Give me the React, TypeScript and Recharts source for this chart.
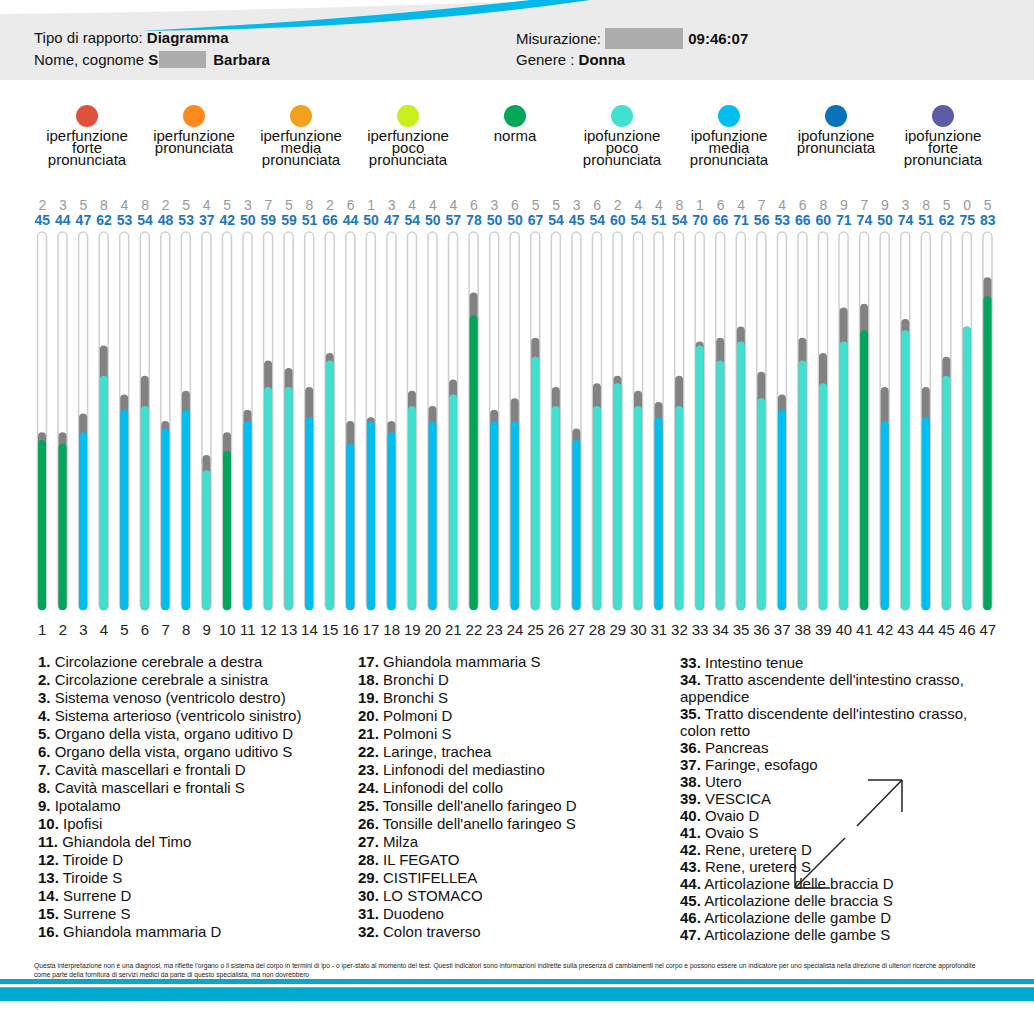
import { BarChart, Bar, XAxis, YAxis, Cell } from 'recharts'

const FONT = '"Liberation Sans", Arial, Helvetica, sans-serif'

const values = [45, 44, 47, 62, 53, 54, 48, 53, 37, 42, 50, 59, 59, 51, 66, 44, 50, 47, 54, 50, 57, 78, 50, 50, 67, 54, 45, 54, 60, 54, 51, 54, 70, 66, 71, 56, 53, 66, 60, 71, 74, 50, 74, 51, 62, 75, 83]
const deltas = [2, 3, 5, 8, 4, 8, 2, 5, 4, 5, 3, 7, 5, 8, 2, 6, 1, 3, 4, 4, 4, 6, 3, 6, 5, 5, 3, 6, 2, 4, 4, 8, 1, 6, 4, 7, 4, 6, 8, 9, 7, 9, 3, 8, 5, 0, 5]
// n = norma, p = ipofunzione poco pronunciata, m = ipofunzione media pronunciata
const states = ['n', 'n', 'm', 'p', 'm', 'p', 'm', 'm', 'p', 'n', 'm', 'p', 'p', 'm', 'p', 'm', 'm', 'm', 'p', 'm', 'p', 'n', 'm', 'm', 'p', 'p', 'm', 'p', 'p', 'p', 'm', 'p', 'p', 'p', 'p', 'p', 'm', 'p', 'p', 'p', 'n', 'm', 'p', 'm', 'p', 'p', 'n']

const organs = [
	'Circolazione cerebrale a destra',
	'Circolazione cerebrale a sinistra',
	'Sistema venoso (ventricolo destro)',
	'Sistema arterioso (ventricolo sinistro)',
	'Organo della vista, organo uditivo D',
	'Organo della vista, organo uditivo S',
	'Cavità mascellari e frontali D',
	'Cavità mascellari e frontali S',
	'Ipotalamo',
	'Ipofisi',
	'Ghiandola del Timo',
	'Tiroide D',
	'Tiroide S',
	'Surrene D',
	'Surrene S',
	'Ghiandola mammaria D',
	'Ghiandola mammaria S',
	'Bronchi D',
	'Bronchi S',
	'Polmoni D',
	'Polmoni S',
	'Laringe, trachea',
	'Linfonodi del mediastino',
	'Linfonodi del collo',
	"Tonsille dell'anello faringeo D",
	"Tonsille dell'anello faringeo S",
	'Milza',
	'IL FEGATO',
	'CISTIFELLEA',
	'LO STOMACO',
	'Duodeno',
	'Colon traverso',
	'Intestino tenue',
	"Tratto ascendente dell'intestino crasso, appendice",
	"Tratto discendente dell'intestino crasso, colon retto",
	'Pancreas',
	'Faringe, esofago',
	'Utero',
	'VESCICA',
	'Ovaio D',
	'Ovaio S',
	'Rene, uretere D',
	'Rene, uretere S',
	'Articolazione delle braccia D',
	'Articolazione delle braccia S',
	'Articolazione delle gambe D',
	'Articolazione delle gambe S',
]

const legendItems = [
	{ color: '#e0513d', lines: ['iperfunzione', 'forte', 'pronunciata'] },
	{ color: '#fd8a1e', lines: ['iperfunzione', 'pronunciata'] },
	{ color: '#f3a01c', lines: ['iperfunzione', 'media', 'pronunciata'] },
	{ color: '#c6ef1b', lines: ['iperfunzione', 'poco', 'pronunciata'] },
	{ color: '#05a65a', lines: ['norma'] },
	{ color: '#41e0d0', lines: ['ipofunzione', 'poco', 'pronunciata'] },
	{ color: '#00bff0', lines: ['ipofunzione', 'media', 'pronunciata'] },
	{ color: '#0873b9', lines: ['ipofunzione', 'pronunciata'] },
	{ color: '#5e5ba6', lines: ['ipofunzione', 'forte', 'pronunciata'] },
]

const stateColors: Record<string, string> = {
	n: '#02a559',
	p: '#40dfd0',
	m: '#00bfee',
}

const data = values.map((v, i) => ({
	n: String(i + 1),
	value: v,
	top: v + deltas[i],
	track: 100,
}))

const TopTick = (props: any) => {
	const { x, index } = props
	return (
		<g>
			<text x={x} y={15} textAnchor="middle" dominantBaseline="central" fill="#999" fontSize={14} fontFamily={FONT}>
				{deltas[index]}
			</text>
			<text x={x} y={30} textAnchor="middle" dominantBaseline="central" fill="#1c76bd" fontSize={14} fontWeight="bold" fontFamily={FONT}>
				{values[index]}
			</text>
		</g>
	)
}

const BottomTick = (props: any) => {
	const { x, payload } = props
	return (
		<text x={x} y={439} textAnchor="middle" dominantBaseline="central" fill="#222" fontSize={15} fontFamily={FONT}>
			{payload.value}
		</text>
	)
}

const Track = (p: any) => (
	<rect
		x={p.x - 0.5}
		y={p.y}
		width={p.width + 1}
		height={p.height}
		rx={5}
		ry={5}
		fill="#fff"
		stroke="#cfcfcf"
		strokeWidth={1.5}
	/>
)

function Column({ from, to, left, lh, width }: { from: number; to: number; left: number; lh: number; width: number }) {
	return (
		<div style={{ position: 'absolute', left, top: 662 - lh / 2, width, fontSize: 15, lineHeight: lh + 'px', color: '#111' }}>
			{organs.slice(from, to).map((o, i) => (
				<div key={i}>
					<b>{from + i + 1}.</b> {o}
				</div>
			))}
		</div>
	)
}

export default function App() {
	return (
		<div style={{ position: 'relative', width: 1034, height: 1018, background: '#fff', fontFamily: FONT, overflow: 'hidden' }}>
			<style>{'body{margin:0}'}</style>

			{/* header band */}
			<svg width={1034} height={80} style={{ position: 'absolute', left: 0, top: 0 }}>
				<rect x={0} y={0} width={1034} height={80} fill="#ebebeb" />
				<path d="M0,0 L560,0 C400,6 200,12 0,14 Z" fill="#fff" />
				<path d="M140,31 Q350,20 530,0 L590,0 Q390,29 140,31 Z" fill="#00b8ea" />
			</svg>
			<div style={{ position: 'absolute', left: 34, top: 29, fontSize: 15, color: '#111' }}>
				Tipo di rapporto: <b>Diagramma</b>
			</div>
			<div style={{ position: 'absolute', left: 34, top: 51, fontSize: 15, color: '#111', display: 'flex', alignItems: 'center' }}>
				Nome, cognome&nbsp;<b>S</b>
				<span style={{ display: 'inline-block', width: 47, height: 17, background: '#acacac', margin: '0 7px 0 1px' }} />
				<b>Barbara</b>
			</div>
			<div style={{ position: 'absolute', left: 516, top: 28, fontSize: 15, color: '#111', display: 'flex', alignItems: 'center' }}>
				Misurazione:&nbsp;
				<span style={{ display: 'inline-block', width: 78, height: 21, background: '#acacac', marginRight: 5 }} />
				<b>09:46:07</b>
			</div>
			<div style={{ position: 'absolute', left: 516, top: 51, fontSize: 15, color: '#111' }}>
				Genere : <b>Donna</b>
			</div>

			{/* legend */}
			{legendItems.map((it, i) => (
				<div key={i} style={{ position: 'absolute', left: 87 + i * 107 - 55, top: 105, width: 110, textAlign: 'center' }}>
					<div style={{ width: 22, height: 22, borderRadius: 11, background: it.color, margin: '0 auto' }} />
					<div style={{ fontSize: 15, lineHeight: '12px', marginTop: 3, color: '#111' }}>
						{it.lines.map((l, j) => (
							<div key={j}>{l}</div>
						))}
					</div>
				</div>
			))}

			{/* chart */}
			<div style={{ position: 'absolute', left: 0, top: 190 }}>
				<BarChart width={1034} height={450} data={data} margin={{ top: 0, right: 36, left: 32, bottom: 0 }} barGap={-8}>
					<XAxis xAxisId="top" orientation="top" dataKey="n" height={42} interval={0} axisLine={false} tickLine={false} tick={<TopTick />} />
					<XAxis xAxisId="bottom" dataKey="n" height={30} interval={0} axisLine={false} tickLine={false} tick={<BottomTick />} />
					<YAxis domain={[0, 100]} hide />
					<Bar xAxisId="bottom" dataKey="track" barSize={8} shape={<Track />} isAnimationActive={false} />
					<Bar xAxisId="bottom" dataKey="top" barSize={8} fill="#828282" radius={4} isAnimationActive={false} />
					<Bar xAxisId="bottom" dataKey="value" barSize={8} radius={4} isAnimationActive={false}>
						{data.map((d, i) => (
							<Cell key={d.n} fill={stateColors[states[i]]} />
						))}
					</Bar>
				</BarChart>
			</div>

			{/* organ list */}
			<Column from={0} to={16} left={38} lh={18} width={315} />
			<Column from={16} to={32} left={358} lh={18} width={315} />
			<Column from={32} to={47} left={680} lh={17} width={300} />

			{/* pen annotation */}
			<svg width={1034} height={1018} style={{ position: 'absolute', left: 0, top: 0, pointerEvents: 'none' }}>
				<g stroke="#222" strokeWidth={1.5} fill="none">
					<line x1={902} y1={780} x2={857} y2={826} />
					<line x1={845} y1={838} x2={795} y2={888} />
					<line x1={868} y1={780} x2={902} y2={780} />
					<line x1={902} y1={780} x2={902} y2={812} />
					<line x1={795} y1={855} x2={795} y2={888} />
					<line x1={795} y1={888} x2={830} y2={888} />
				</g>
			</svg>

			{/* footer */}
			<div style={{ position: 'absolute', left: 34, top: 961, width: 1000, fontSize: 6.7, lineHeight: '9px', color: '#222', whiteSpace: 'nowrap' }}>
				Questa interpretazione non è una diagnosi, ma riflette l'organo o il sistema del corpo in termini di ipo - o iper-stato al momento del test. Questi indicatori sono informazioni indirette sulla presenza di cambiamenti nel corpo e possono essere un indicatore per uno specialista nella direzione di ulteriori ricerche approfondite
				<br />
				come parte della fornitura di servizi medici da parte di questo specialista, ma non dovrebbero
			</div>
			<div style={{ position: 'absolute', left: 0, top: 979, width: 1034, height: 5, background: '#00aacf' }} />
			<div style={{ position: 'absolute', left: 0, top: 987, width: 1034, height: 14, background: '#00aacf', borderTop: '1px solid #3dbfdc', boxSizing: 'border-box' }} />
		</div>
	)
}
